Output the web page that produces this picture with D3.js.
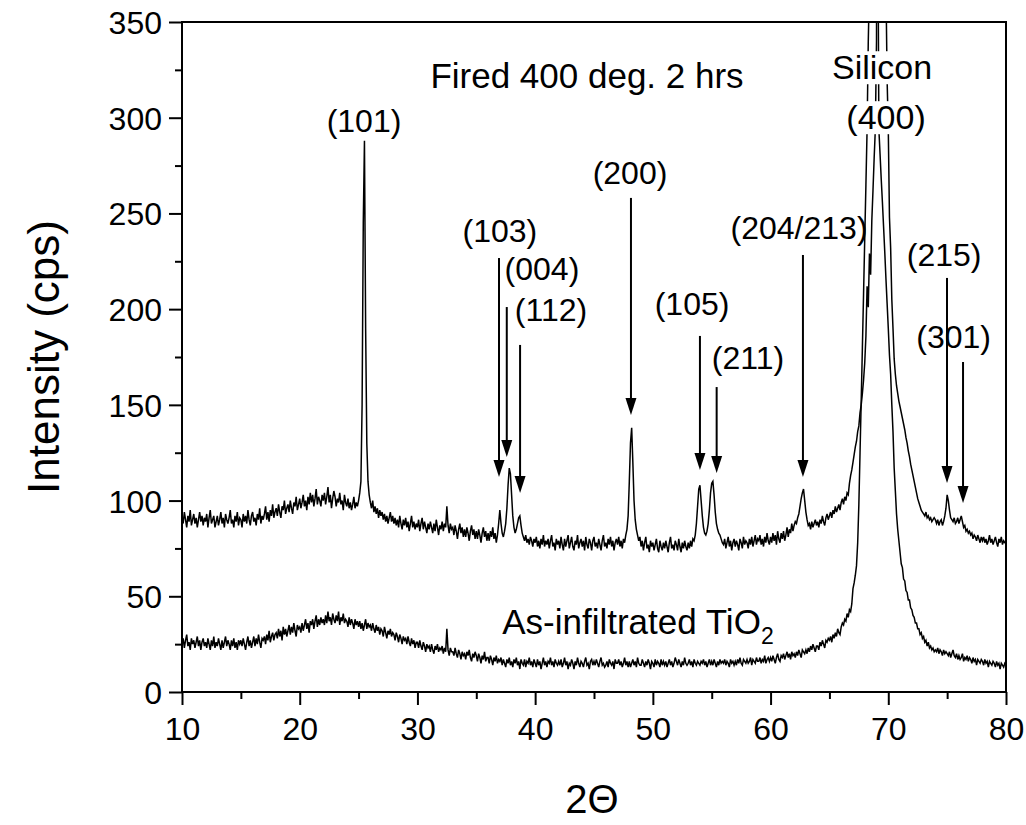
<!DOCTYPE html>
<html><head><meta charset="utf-8">
<script src="https://cdn.jsdelivr.net/npm/d3@7"></script>
<style>body{margin:0;background:#fff} text{font-family:"Liberation Sans",Arial,Helvetica,sans-serif;fill:#000}</style>
</head><body><svg id="c" width="1026" height="825"></svg>
<script>
// ---------- DATA ----------
// 2-theta scan from 10 to 80 deg, one reading every 0.1 deg (10 readings per row = 1 degree)
const scanStart = 10, scanStep = 0.1;

const firedRows = [
[91,88,94,90,86,92,89,95,87,90],
[93,88,91,86,90,94,89,92,87,91],
[89,93,86,91,95,88,90,92,86,89],
[92,87,90,94,88,91,86,93,90,88],
[91,95,88,90,86,92,89,94,87,91],
[90,86,93,89,92,88,95,90,87,92],
[94,89,91,87,93,90,96,88,92,90],
[93,97,90,94,89,95,92,98,91,94],
[96,92,98,94,91,97,95,100,93,96],
[98,94,100,96,93,99,97,102,95,98],
[101,96,99,103,97,100,95,102,98,104],
[99,103,97,101,106,98,102,100,97,103],
[100,104,98,102,107,99,103,96,101,105],
[102,97,101,99,104,98,100,95,103,99],
[97,101,96,99,95,98,102,96,99,97],
[100,104,110,150,245,288,190,130,110,103],
[99,96,100,94,97,93,96,91,95,92],
[94,90,93,89,92,88,91,94,89,92],
[88,91,87,90,86,92,88,85,90,87],
[91,86,89,84,88,92,86,89,85,88],
[86,90,84,88,91,85,89,86,83,88],
[85,89,86,83,88,84,90,86,82,87],
[85,89,84,88,86,97,87,83,88,85],
[86,82,87,84,80,85,88,83,86,81],
[85,81,86,83,79,84,87,82,85,80],
[84,80,85,82,78,83,86,81,84,79],
[83,79,84,81,86,80,83,78,82,88],
[95,88,83,81,84,88,96,108,117,114],
[103,92,86,83,85,88,91,92,87,83],
[81,79,82,78,80,77,81,79,76,80],
[78,81,76,79,75,80,77,82,76,79],
[77,80,75,79,82,76,78,74,80,77],
[79,75,81,77,74,80,76,79,82,75],
[78,81,76,74,79,77,82,75,78,80],
[76,79,74,81,77,75,80,78,74,79],
[81,76,78,75,80,77,74,79,82,76],
[78,75,80,77,81,76,79,74,78,80],
[77,81,76,79,75,80,78,82,85,92],
[110,130,138,120,100,90,85,82,79,81],
[76,79,74,78,81,75,77,73,79,76],
[78,74,77,80,75,73,79,76,74,78],
[75,79,76,73,78,81,75,77,74,79],
[77,74,80,76,73,78,75,79,76,74],
[78,75,79,76,80,79,82,88,97,106],
[108,100,92,86,83,82,84,88,95,104],
[109,110,103,94,88,85,83,82,80,78],
[77,80,75,78,81,76,79,74,78,80],
[76,79,77,74,80,78,75,81,77,79],
[78,75,80,77,81,76,79,82,77,80],
[79,82,77,80,76,81,78,83,79,77],
[81,78,83,79,82,77,84,80,78,83],
[80,84,79,82,86,81,85,83,88,84],
[87,89,88,91,93,97,101,104,106,100],
[94,90,87,88,85,89,86,88,90,87],
[89,86,90,88,92,89,87,91,93,90],
[92,94,91,95,93,97,94,96,98,95],
[99,101,98,102,100,104,103,109,113,116],
[120,124,128,131,136,139,146,150,156,163],
[172,186,212,201,229,218,246,262,279,294],
[340,700,1500,2600,2800,1700,950,520,370,320],
[294,248,232,205,190,174,166,160,156,152],
[149,146,143,140,137,133,130,126,123,119],
[116,113,110,107,104,101,99,97,95,94],
[93,92,94,91,92,90,91,89,90,91],
[90,88,90,87,89,90,87,89,92,96],
[103,100,95,91,90,89,91,88,89,91],
[88,90,92,89,86,87,84,85,83,84],
[82,83,80,82,81,79,82,80,78,81],
[79,81,78,80,77,79,82,78,80,77],
[79,81,78,76,80,78,81,77,79,78],
[78]
];

const asInfiltratedRows = [
[25,28,23,27,30,24,26,22,28,25],
[27,23,26,29,24,27,22,26,28,24],
[26,23,28,25,22,27,24,29,23,26],
[24,28,25,22,27,23,26,29,24,27],
[25,22,27,24,28,23,26,22,27,25],
[27,24,28,25,22,26,29,24,27,23],
[26,29,24,28,25,30,26,23,28,27],
[29,25,30,27,32,26,29,31,27,30],
[31,28,33,29,32,27,34,30,33,29],
[32,35,30,34,31,36,32,29,35,33],
[34,31,36,32,35,38,33,36,31,37],
[35,38,33,37,40,34,38,35,39,36],
[38,35,40,36,42,37,39,35,41,38],
[36,40,37,42,35,39,37,41,36,38],
[37,34,39,35,38,36,33,38,35,37],
[34,37,33,36,32,35,38,33,36,34],
[35,32,36,33,31,35,32,34,30,33],
[32,29,34,31,28,32,30,33,29,31],
[30,27,31,29,26,30,28,25,29,27],
[28,25,29,26,24,28,25,27,23,26],
[26,23,27,24,22,26,24,21,25,23],
[24,21,25,22,20,24,22,25,21,23],
[22,24,20,23,21,33,22,19,23,21],
[21,19,23,20,18,22,20,17,21,19],
[20,17,21,19,22,18,16,20,18,21],
[19,16,20,18,15,19,17,21,16,18],
[18,15,19,17,14,18,16,19,15,17],
[16,18,14,17,15,13,17,15,18,14],
[16,13,17,15,18,14,16,12,17,15],
[14,17,13,16,15,18,14,16,13,17],
[15,13,17,14,16,12,15,18,14,16],
[13,16,15,18,14,16,13,17,15,14],
[16,14,17,13,15,18,14,16,12,15],
[14,17,15,12,16,14,18,15,13,16],
[15,13,16,18,14,15,12,16,17,14],
[16,14,17,15,13,16,18,14,15,13],
[14,16,13,17,15,14,16,12,17,15],
[15,17,14,16,13,15,18,14,16,13],
[16,13,15,17,14,16,13,18,15,14],
[14,17,15,13,16,14,17,15,12,16],
[15,13,17,14,16,15,13,17,14,16],
[14,16,13,15,17,14,16,13,15,18],
[16,14,17,15,13,16,14,18,15,14],
[15,17,14,16,13,17,15,14,16,15],
[14,16,15,17,14,16,13,15,17,14],
[16,14,17,15,13,16,14,17,15,16],
[15,17,14,16,15,13,17,15,16,14],
[16,14,17,15,18,15,14,17,16,15],
[17,15,16,18,14,17,16,15,18,16],
[16,18,15,17,16,19,15,17,18,16],
[18,16,19,17,15,18,20,17,16,19],
[18,20,17,19,21,18,20,17,21,19],
[20,18,21,19,22,20,18,22,21,20],
[22,20,23,21,24,22,25,23,21,24],
[24,22,26,24,27,25,23,27,26,28],
[27,29,26,30,28,31,29,33,31,30],
[34,36,35,38,37,41,39,43,42,46],
[54,57,61,66,78,98,125,152,180,208],
[237,265,294,340,370,600,1100,1900,2500,2000],
[1200,420,294,281,268,256,243,230,216,203],
[190,176,166,150,136,117,105,93,85,79],
[73,67,65,59,58,53,52,48,48,44],
[43,40,39,36,36,33,33,30,31,28],
[29,26,27,24,26,23,24,22,23,21],
[22,21,23,20,22,21,19,22,20,21],
[20,19,21,18,20,22,19,18,20,17],
[19,17,18,20,16,18,17,19,16,18],
[17,15,18,16,17,14,17,16,15,17],
[16,14,17,15,16,13,16,15,14,16],
[15,13,16,14,15,12,15,14,13,15],
[14]
];

const firedCps = firedRows.flat();
const asInfiltratedCps = asInfiltratedRows.flat();

const xTickValues = [10,20,30,40,50,60,70,80];
const xMinorValues = [15,25,35,45,55,65,75];
const yTickValues = [0,50,100,150,200,250,300,350];
const yMinorValues = [25,75,125,175,225,275,325];

// peak labels: text, label centre (2theta, cps), arrow (2theta, top cps, tip cps)
const peakLabels = ["(101)","(103)","(004)","(112)","(200)","(105)","(211)","(204/213)","(215)","(301)"];
const labelAt    = [[25.46,298.8],[37.0,241.3],[40.58,221.5],[41.35,199.6],[48.06,271.6],[53.33,203.2],[58.08,175.0],[62.42,242.4],[74.74,228.8],[75.55,185.5]];
const arrows     = [null,[36.93,226.7,112.3],[37.59,201.1,122.8],[38.72,181.3,104.0],[48.14,258.1,144.7],[54.0,186.0,116.0],[55.42,159.3,114.4],[62.75,228.3,112.3],[74.99,216.3,109.2],[76.35,172.4,98.7]];

// ---------- CHART ----------
const svg = d3.select("#c");
const M = {l:182, r:1006, t:22, b:692};
const x = d3.scaleLinear().domain([10,80]).range([M.l, M.r]);
const y = d3.scaleLinear().domain([0,350]).range([M.b, M.t]);

svg.append("defs").append("clipPath").attr("id","clip")
  .append("rect").attr("x",M.l).attr("y",M.t).attr("width",M.r-M.l).attr("height",M.b-M.t);

const line = d3.line().x((d,i)=>x(scanStart+i*scanStep)).y(d=>y(d));
const plot = svg.append("g").attr("clip-path","url(#clip)");
[asInfiltratedCps, firedCps].forEach(s=>{
  plot.append("path").attr("d",line(s)).attr("fill","none").attr("stroke","#000")
    .attr("stroke-width",1.5).attr("stroke-linejoin","miter");
});

// axes
const FS = 32;
svg.append("g").attr("transform",`translate(0,${M.b})`)
  .call(d3.axisBottom(x).tickValues(xTickValues).tickSize(13).tickPadding(12).tickFormat(d3.format("d")));
svg.append("g").attr("transform",`translate(0,${M.b})`)
  .call(d3.axisBottom(x).tickValues(xMinorValues).tickSize(7).tickFormat(""));
const gy = svg.append("g").attr("transform",`translate(${M.l},0)`)
  .call(d3.axisLeft(y).tickValues(yTickValues).tickSize(13).tickPadding(7).tickFormat(d3.format("d")));
svg.append("g").attr("transform",`translate(${M.l},0)`)
  .call(d3.axisLeft(y).tickValues(yMinorValues).tickSize(7).tickFormat(""));
svg.selectAll(".domain").remove();
svg.selectAll(".tick line").attr("stroke","#000").attr("stroke-width",2);
svg.selectAll(".tick text").attr("font-size",FS).attr("font-family",null).attr("fill","#000");
gy.selectAll(".tick text").attr("dy","0.36em");

svg.append("rect").attr("x",M.l).attr("y",M.t).attr("width",M.r-M.l).attr("height",M.b-M.t)
  .attr("fill","none").attr("stroke","#000").attr("stroke-width",2);

// axis titles
svg.append("text").attr("transform",`translate(43,${(M.t+M.b)/2}) rotate(-90)`)
  .attr("text-anchor","middle").attr("dy","0.36em").attr("font-size",44).text("Intensity (cps)");
svg.append("text").attr("x",592).attr("y",799).attr("text-anchor","middle").attr("dy","0.36em")
  .attr("font-size",40).text("2\u0398");

// annotations
const ann = svg.append("g");
peakLabels.forEach((t,i)=>{
  ann.append("text").attr("x",x(labelAt[i][0])).attr("y",y(labelAt[i][1])).attr("dy","0.36em")
    .attr("text-anchor","middle").attr("font-size",FS).text(t);
  const a = arrows[i];
  if(a){
    const ax = x(a[0]), top = y(a[1]), tip = y(a[2]);
    ann.append("line").attr("x1",ax).attr("x2",ax).attr("y1",top).attr("y2",tip-10)
      .attr("stroke","#000").attr("stroke-width",2);
    ann.append("path").attr("d",`M${ax-5.5},${tip-17}L${ax+5.5},${tip-17}L${ax},${tip}Z`).attr("fill","#000");
  }
});

// Silicon (400) label with white masks
[["Silicon",69.47,326.5],["(400)",69.81,300.4]].forEach(([t,a,b])=>{
  const g = ann.append("g");
  const tx = g.append("text").attr("x",x(a)).attr("y",y(b)).attr("dy","0.36em")
    .attr("text-anchor","middle").attr("font-size",34).text(t);
  const bb = tx.node().getBBox();
  g.insert("rect","text").attr("x",bb.x-2).attr("y",bb.y+3).attr("width",bb.width+4).attr("height",bb.height-5).attr("fill","#fff");
});

ann.append("text").attr("x",x(31.1)).attr("y",y(322)).attr("dy","0.36em").attr("font-size",35).text("Fired 400 deg. 2 hrs");
const asT = ann.append("text").attr("x",x(37.2)).attr("y",y(37)).attr("dy","0.36em").attr("font-size",35);
asT.append("tspan").text("As-infiltrated TiO");
asT.append("tspan").attr("dy","0.45em").attr("font-size",23).text("2");
</script>
</body></html>
